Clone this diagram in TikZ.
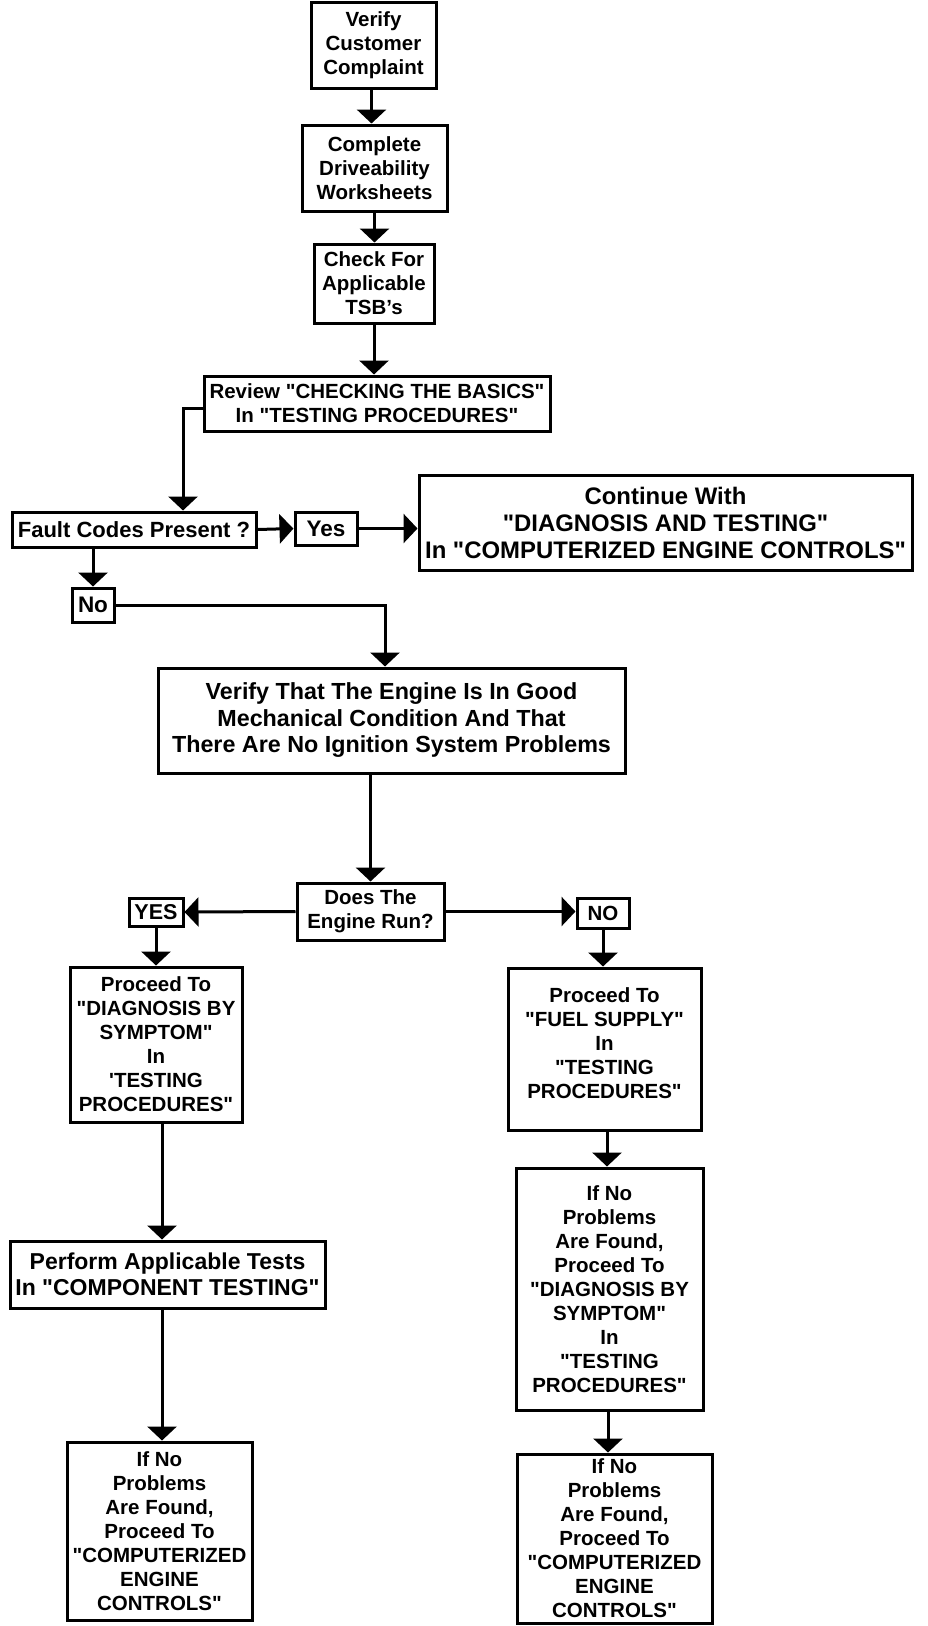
\documentclass[tikz,border=0pt]{standalone}
\usepackage{fontspec}
\setmainfont{Liberation Sans}[Ligatures=TeXOff]
\usetikzlibrary{arrows.meta}
\begin{document}
\begin{tikzpicture}[x=1pt,y=-1pt,
  box/.style={draw, line width=3pt, inner sep=0pt, align=center,
    font=\fontsize{20.5}{24}\selectfont\bfseries},
  arr/.style={line width=3pt, -{Triangle[width=29pt,length=14pt]}}]
\useasboundingbox (0,0) rectangle (928,1626);
\node[box, minimum width=125, minimum height=86] (b1) at (373.5,45) {Verify\\Customer\\Complaint};
\node[box, minimum width=145, minimum height=86] (b2) at (374.5,168) {Complete\\Driveability\\Worksheets};
\node[box, minimum width=120, minimum height=79] (b3) at (374,283.5) {Check For\\Applicable\\TSB’s};
\node[box, minimum width=346, minimum height=55] (b4) at (377,403.5) {Review "CHECKING THE BASICS"\\In "TESTING PROCEDURES"};
\node[box, minimum width=244, minimum height=35, font=\fontsize{22}{24}\selectfont\bfseries] (fault) at (134,529.5) {Fault Codes Present ?};
\node[box, minimum width=62, minimum height=33, font=\fontsize{22.5}{24}\selectfont\bfseries] (yes) at (326,528.5) {Yes};
\node[box, minimum width=493, minimum height=95, font=\fontsize{23.9}{27}\selectfont\bfseries] (cont) at (665.5,522.5) {Continue With\\"DIAGNOSIS AND TESTING"\\In "COMPUTERIZED ENGINE CONTROLS"};
\node[box, minimum width=42, minimum height=34, font=\fontsize{22.5}{24}\selectfont\bfseries] (no) at (93,605) {No};
\node[box, minimum width=467, minimum height=105, font=\fontsize{23.3}{26.5}\selectfont\bfseries] (verify) at (391.5,720.5) {Verify That The Engine Is In Good\\Mechanical Condition And That\\There Are No Ignition System Problems};
\node[box, minimum width=147, minimum height=57] (does) at (370.5,911.5) {Does The\\Engine Run?};
\node[box, minimum width=54, minimum height=28, font=\fontsize{21.5}{24}\selectfont\bfseries] (yesb) at (156,912) {YES};
\node[box, minimum width=52, minimum height=30] (nob) at (603,913) {NO};
\node[box, minimum width=172, minimum height=155] (proc1) at (156,1044.5) {Proceed To\\"DIAGNOSIS BY\\SYMPTOM"\\In\\'TESTING\\PROCEDURES"};
\node[box, minimum width=315, minimum height=67, font=\fontsize{23}{26}\selectfont\bfseries] (perform) at (167.5,1274.5) {Perform Applicable Tests\\In "COMPONENT TESTING"};
\node[box, minimum width=185, minimum height=178] (ifno1) at (159.5,1531) {If No\\Problems\\Are Found,\\Proceed To\\"COMPUTERIZED\\ENGINE\\CONTROLS"};
\node[box, minimum width=193, minimum height=162] (proc2) at (604.5,1049) {Proceed To\\"FUEL SUPPLY"\\In\\"TESTING\\PROCEDURES"\\[-12pt]\mbox{}};
\node[box, minimum width=187, minimum height=242] (ifno2) at (609.5,1289) {If No\\Problems\\Are Found,\\Proceed To\\"DIAGNOSIS BY\\SYMPTOM"\\In\\"TESTING\\PROCEDURES"};
\node[box, minimum width=195, minimum height=169] (ifno3) at (614.5,1538.5) {If No\\Problems\\Are Found,\\Proceed To\\"COMPUTERIZED\\ENGINE\\CONTROLS"};
% connectors
\draw[arr] ([xshift=-2pt]b1.south) -- ([xshift=-2pt]b1.south |- b2.north);
\draw[arr] (b2.south) -- (b2.south |- b3.north);
\draw[arr] (b3.south) -- (b3.south |- b4.north);
\draw[arr] ([yshift=-4.5pt]b4.west) -| ([xshift=49pt]fault.north);
\draw[arr] (fault.east) -- (yes.west);
\draw[arr] (yes.east) -- (yes.east -| cont.west);
\draw[arr] (no.north |- fault.south) -- (no.north);
\draw[arr] (no.east) -| ([xshift=-6.5pt]verify.north);
\draw[arr] (does.north |- verify.south) -- (does.north);
\draw[arr] (does.west) -- (yesb.east);
\draw[arr] (does.east) -- (does.east -| nob.west);
\draw[arr] (yesb.south) -- (yesb.south |- proc1.north);
\draw[arr] ([xshift=6pt]proc1.south) -- ([xshift=6pt]proc1.south |- perform.north);
\draw[arr] ([xshift=2.5pt]ifno1.north |- perform.south) -- ([xshift=2.5pt]ifno1.north);
\draw[arr] (nob.south) -- (nob.south |- proc2.north);
\draw[arr] ([xshift=2.5pt]proc2.south) -- ([xshift=2.5pt]proc2.south |- ifno2.north);
\draw[arr] ([xshift=-1.5pt]ifno2.south) -- ([xshift=-1.5pt]ifno2.south |- ifno3.north);
\end{tikzpicture}
\end{document}
